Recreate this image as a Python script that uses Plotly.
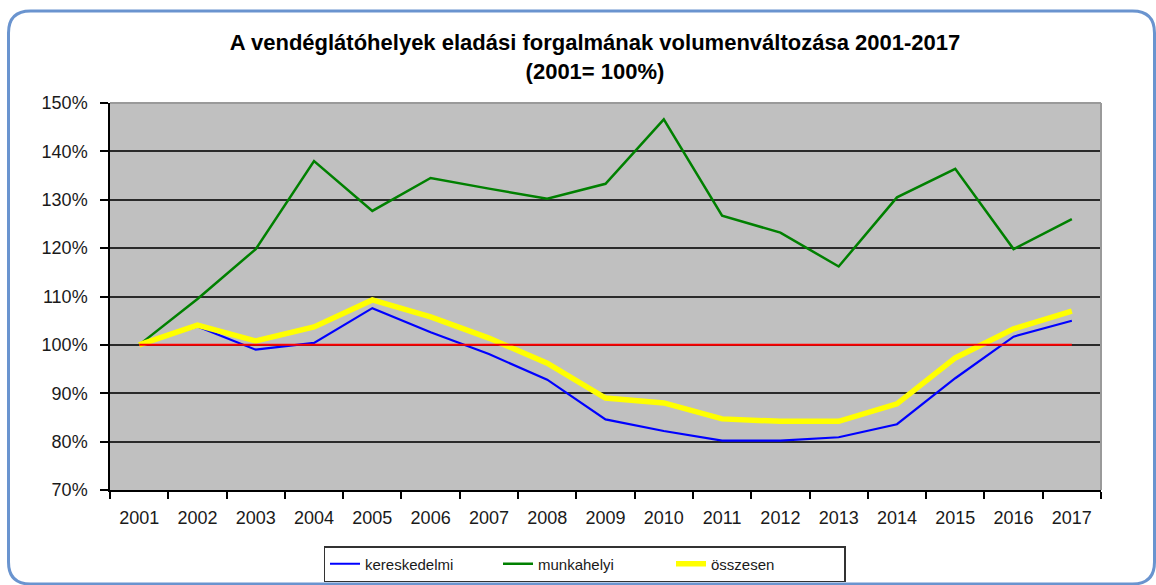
import plotly.graph_objects as go

evek = [str(y) for y in range(2001, 2018)]
kereskedelmi = [100.0, 103.8, 99.0, 100.4, 107.6, 102.6, 98.1, 92.8, 84.6, 82.2,
                80.2, 80.2, 80.9, 83.6, 93.1, 101.7, 105.0]
munkahelyi = [100.0, 109.5, 119.8, 138.0, 127.7, 134.5, 132.3, 130.2, 133.3, 146.6,
              126.7, 123.2, 116.2, 130.5, 136.4, 119.8, 126.0]
osszesen = [100.0, 104.1, 100.8, 103.7, 109.3, 105.8, 101.4, 96.2, 89.0, 88.0,
            84.7, 84.2, 84.2, 87.8, 97.3, 103.3, 107.0]
bazis = [100.0] * 17
y_tick_vals = [70, 80, 90, 100, 110, 120, 130, 140, 150]
y_tick_text = ["70%", "80%", "90%", "100%", "110%", "120%", "130%", "140%", "150%"]

W, H = 1156, 585
ML, MR, MT, MB = 110, 55, 103, 95
PW, PH = W - ML - MR, H - MT - MB


def px(x):
    return (x - ML) / PW


def py(y):
    return (H - MB - y) / PH


fig = go.Figure()
fig.add_trace(go.Scatter(x=evek, y=kereskedelmi, name="kereskedelmi", mode="lines",
                         line=dict(color="#0000ff", width=2.2)))
fig.add_trace(go.Scatter(x=evek, y=munkahelyi, name="munkahelyi", mode="lines",
                         line=dict(color="#008000", width=2.5)))
fig.add_trace(go.Scatter(x=evek, y=osszesen, name="összesen", mode="lines",
                         line=dict(color="#ffff00", width=5.5)))
fig.add_trace(go.Scatter(x=evek, y=bazis, name="100%", mode="lines", showlegend=False,
                         line=dict(color="#ff0000", width=2), hoverinfo="skip"))

# rounded outer frame
L, R, T, B = px(8.5), px(1154.5), py(11), py(584)
rx, ry = 22 / PW, 22 / PH
path = (f"M {L+rx},{T} L {R-rx},{T} Q {R},{T} {R},{T-ry} L {R},{B+ry} Q {R},{B} {R-rx},{B} "
        f"L {L+rx},{B} Q {L},{B} {L},{B+ry} L {L},{T-ry} Q {L},{T} {L+rx},{T} Z")
shapes = [
    dict(type="path", xref="paper", yref="paper", path=path,
         line=dict(color="#6a94cf", width=3), fillcolor="rgba(0,0,0,0)", layer="below"),
    dict(type="line", xref="paper", yref="paper", x0=0, x1=1, y0=1, y1=1,
         line=dict(color="#9a9a9a", width=2), layer="above"),
    dict(type="line", xref="paper", yref="paper", x0=1, x1=1, y0=0, y1=1,
         line=dict(color="#9a9a9a", width=2), layer="above"),
]

fig.update_layout(
    width=W, height=H,
    margin=dict(l=ML, r=MR, t=MT, b=MB),
    paper_bgcolor="white",
    plot_bgcolor="#c0c0c0",
    font=dict(family="Liberation Sans, Arial, sans-serif", color="#1a1a1a", size=18),
    title=dict(
        text="<b>A vendéglátóhelyek eladási forgalmának volumenváltozása 2001-2017<br>(2001= 100%)</b>",
        x=595 / W, xref="container", xanchor="center",
        y=1 - 50 / H, yref="container", yanchor="top",
        font=dict(size=22, color="#000000"),
    ),
    xaxis=dict(
        type="category", tickson="boundaries", showgrid=False,
        ticks="outside", ticklen=7, tickcolor="#000", tickwidth=1.5,
        showline=True, linecolor="#000", linewidth=1.5,
        range=[-0.5, 16.5], tickfont=dict(size=18), ticklabelstandoff=11,
    ),
    yaxis=dict(
        range=[70, 150], tickmode="array", tickvals=y_tick_vals, ticktext=y_tick_text,
        showgrid=True, gridcolor="#2a2a2a", gridwidth=1.5, zeroline=False,
        ticks="outside", ticklen=8, tickcolor="#000", tickwidth=1.5,
        showline=True, linecolor="#000", linewidth=1.5,
        tickfont=dict(size=18), ticklabelstandoff=9,
    ),
    legend=dict(
        orientation="h", xref="container", yref="container",
        x=584.5 / W, xanchor="center", y=1 - 546 / H, yanchor="top",
        bgcolor="white", bordercolor="#333", borderwidth=1.5,
        font=dict(size=15), entrywidth=128, entrywidthmode="pixels",
        traceorder="normal",
    ),
    shapes=shapes,
    showlegend=True,
)

fig.write_html("out.html", config={"displayModeBar": False},
               post_script="document.body.style.margin='0px';")
